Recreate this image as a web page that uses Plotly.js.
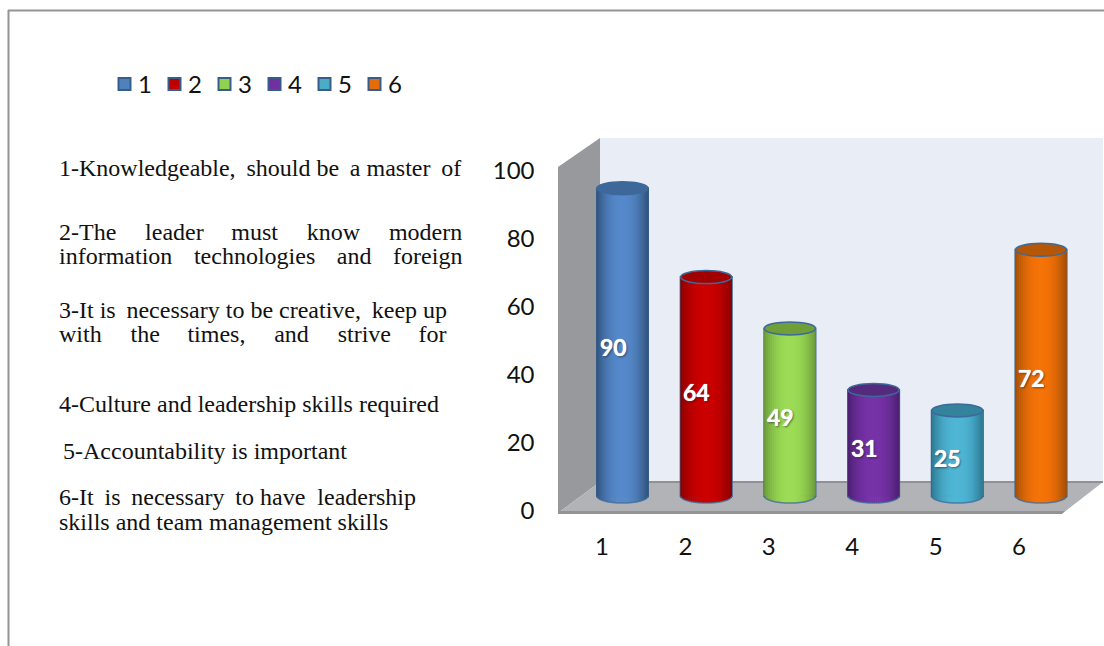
<!DOCTYPE html>
<html>
<head>
<meta charset="utf-8">
<script src="https://cdn.plot.ly/plotly-3.0.1.min.js"></script>
<style>html,body{margin:0;padding:0;background:#fff;overflow:hidden}#chart{width:1104px;height:646px}</style>
</head>
<body>
<div id="chart"></div>
<script>
const categories = [1, 2, 3, 4, 5, 6];
const values = [90, 64, 49, 31, 25, 72];
const seriesNames = ['1', '2', '3', '4', '5', '6'];
const legendColors = ['#4f81bd', '#c00000', '#92d050', '#7030a0', '#4bacc6', '#e46c0a'];
const centerColors = ['#5689cb', '#cc0000', '#9cdc56', '#7732a8', '#4fb6d6', '#f57308'];
const edgeColors = ['#2f527c', '#880000', '#6b9a3a', '#4b2070', '#2c7890', '#a34d05'];
const capColors = ['#3e6899', '#a00000', '#709e38', '#552a7d', '#35829c', '#b55706'];
const yTicks = [0, 20, 40, 60, 80, 100];

const textLines = [
  {t: '1-Knowledgeable, should be a master of', x: 57, y: 168, w: 402},
  {t: '2-The leader must know modern', x: 57, y: 232, w: 403},
  {t: 'information technologies and foreign', x: 57, y: 256, w: 403},
  {t: '3-It is necessary to be creative, keep up', x: 57, y: 310, w: 388},
  {t: 'with the times, and strive for', x: 57, y: 334, w: 388},
  {t: '4-Culture and leadership skills required', x: 57, y: 404},
  {t: '5-Accountability is important', x: 61, y: 451},
  {t: '6-It is necessary to have leadership', x: 57, y: 497, w: 357},
  {t: 'skills and team management skills', x: 57, y: 522}
];

const W = 1104, H = 646;
const px = v => v / W;
const py = v => 1 - v / H;
const BODY = 'Liberation Serif';
const UI = 'Lato';
const bodySize = 24;
const uiSize = 24;

const ctx = document.createElement('canvas').getContext('2d');
function justify(line) {
  if (!line.w) return line.t;
  ctx.font = bodySize + 'px "' + BODY + '"';
  const words = line.t.split(' ');
  const sp = ctx.measureText('\u00A0').width;
  const thin = ctx.measureText('\u2009').width;
  const bare = words.reduce((a, w) => a + ctx.measureText(w).width, 0);
  const gap = (line.w - bare) / (words.length - 1);
  let out = words[0], err = 0;
  for (let i = 1; i < words.length; i++) {
    const want = gap + err;
    let best = [1, 0], bestErr = Infinity;
    for (let a = 1; a * sp <= want + sp; a++) {
      for (let b = 0; b < 4; b++) {
        const e = Math.abs(want - a * sp - b * thin);
        if (e < bestErr) { bestErr = e; best = [a, b]; }
      }
    }
    err = want - best[0] * sp - best[1] * thin;
    out += '\u00A0'.repeat(best[0]) + '\u2009'.repeat(best[1]) + words[i];
  }
  return out;
}

const barWidth = 0.61;
const dropPx = 7, capPx = 6.5, unitPx = 3.42;
const traces = [];

// anchor trace for the labelled axes
traces.push({type: 'scatter', mode: 'markers', x: categories, y: values, xaxis: 'x', yaxis: 'y',
  marker: {opacity: 0, size: 1}, showlegend: false, hoverinfo: 'skip'});

categories.forEach((c, i) => {
  traces.push({type: 'bar', name: seriesNames[i], x: [c], y: [values[i]], width: barWidth,
    xaxis: 'x2', yaxis: 'y2',
    marker: {color: legendColors[i], line: {color: '#385d8a', width: 2}}});
});

const hex = s => [1, 3, 5].map(k => parseInt(s.substr(k, 2), 16));
const shade = (a, b, m) => {
  const A = hex(a), B = hex(b);
  return 'rgb(' + A.map((v, k) => Math.round(v + (B[k] - v) * m)).join(',') + ')';
};
const nStrips = 26;
for (let s = 0; s < nStrips; s++) {
  const u = (s + 0.5) / nStrips * 2 - 1;
  const m = 1 - Math.pow(Math.abs(u), 2.2);
  const drop = dropPx / unitPx * Math.sqrt(1 - u * u);
  const w = barWidth / nStrips;
  traces.push({type: 'bar', x: categories, y: values.map(v => v + drop),
    base: categories.map(() => -drop),
    width: w + 0.006, offset: -barWidth / 2 + s * w - 0.003,
    xaxis: 'x2', yaxis: 'y2', showlegend: false, hoverinfo: 'skip',
    marker: {color: edgeColors.map((e, i) => shade(e, centerColors[i], m)), line: {width: 0}}});
}

const poly = pts => 'M' + pts.map(p => p[0] / W + ',' + (1 - p[1] / H)).join(' L') + ' Z';
const paperShape = (pts, fill) => ({type: 'path', xref: 'paper', yref: 'paper', layer: 'below',
  path: poly(pts), fillcolor: fill, line: {width: 0}});

const shapes = [
  paperShape([[600, 138], [1103, 138], [1103, 482], [600, 482]], '#e8edf6'),
  paperShape([[558, 167], [600, 138], [600, 482], [558, 513]], '#98999d'),
  paperShape([[600, 482], [1103, 482], [1063, 513], [558, 513]], '#b1b3b7'),
  paperShape([[600, 481], [1103, 481], [1103, 483], [600, 483]], '#8f9195'),
  paperShape([[558, 511], [1065, 511], [1062, 514], [558, 514]], '#919397'),
  {type: 'line', xref: 'paper', yref: 'paper', layer: 'below', x0: px(8.5), x1: px(8.5), y0: py(10), y1: 0,
    line: {color: '#949494', width: 2}},
  {type: 'line', xref: 'paper', yref: 'paper', layer: 'below', x0: px(8), x1: 1, y0: py(10.5), y1: py(10.5),
    line: {color: '#949494', width: 2}}
];

const half = barWidth / 2, dropV = dropPx / unitPx, k = 0.5523;
categories.forEach((c, i) => {
  const l = c - half, r = c + half;
  shapes.push({type: 'path', xref: 'x2', yref: 'y2', layer: 'above',
    path: `M${l},0 C${l},${-k * dropV} ${c - k * half},${-dropV} ${c},${-dropV} C${c + k * half},${-dropV} ${r},${-k * dropV} ${r},0`,
    line: {color: 'rgba(59,106,154,0.75)', width: 1.5}});
  shapes.push({type: 'circle', xref: 'x2', yref: 'y2', layer: 'above',
    x0: l, x1: r, y0: values[i] - capPx / unitPx, y1: values[i] + capPx / unitPx,
    fillcolor: capColors[i], line: {color: '#3b6a9a', width: 1.5}});
});

const annotations = textLines.map(l => ({
  xref: 'paper', yref: 'paper', x: px(l.x), y: py(l.y), xanchor: 'left', yanchor: 'middle',
  showarrow: false, align: 'left', text: justify(l),
  font: {family: BODY, size: bodySize, color: '#111111'}
}));
categories.forEach((c, i) => annotations.push({
  xref: 'x2', yref: 'y2', x: c, y: values[i] / 2, xshift: -9.5, yshift: -5, showarrow: false,
  text: String(values[i]),
  font: {family: UI, size: 23, weight: 700, color: '#ffffff', shadow: '0 0 1px #ffffff, 1px 1px 2px rgba(0,0,0,0.55)'}
}));

const layout = {
  width: W, height: H, margin: {l: 0, r: 0, t: 0, b: 0, pad: 0},
  paper_bgcolor: '#ffffff', plot_bgcolor: 'rgba(0,0,0,0)',
  barmode: 'overlay', font: {family: UI, size: uiSize, color: '#111111'},
  showlegend: true,
  legend: {orientation: 'h', x: px(104.5), y: py(62), xanchor: 'left', yanchor: 'top',
    entrywidth: 5, entrywidthmode: 'pixels', itemwidth: 30, bgcolor: 'rgba(0,0,0,0)',
    font: {family: UI, size: uiSize, color: '#111111'}, traceorder: 'normal'},
  xaxis: {domain: [px(560.3), px(1060.7)], range: [0.5, 6.5], tickmode: 'array', tickvals: categories,
    ticktext: categories.map(String), ticks: 'outside', ticklen: 14, tickcolor: 'rgba(0,0,0,0)',
    showgrid: false, zeroline: false, showline: false, anchor: 'y', automargin: false, fixedrange: true},
  yaxis: {domain: [py(511), py(171)], range: [0, 100], tickmode: 'array', tickvals: yTicks,
    ticks: 'outside', ticklen: 20, tickcolor: 'rgba(0,0,0,0)', showgrid: false, zeroline: false,
    showline: false, anchor: 'x', automargin: false, fixedrange: true},
  xaxis2: {domain: [px(580.65), px(1082.85)], range: [0.5, 6.5], visible: false, anchor: 'y2', fixedrange: true},
  yaxis2: {domain: [py(496 + 5 * unitPx), py(496 - 100 * unitPx)], range: [-5, 100], visible: false, anchor: 'x2', fixedrange: true},
  shapes, annotations
};

Plotly.newPlot('chart', traces, layout, {displayModeBar: false, staticPlot: true}).then(() => {
  document.querySelectorAll('#chart .legend .traces').forEach(tr => {
    const t = tr.querySelector('.legendtext');
    if (t) t.setAttribute('x', parseFloat(t.getAttribute('x')) - 6.5);
    const b = tr.querySelector('path.legendbar');
    if (b) b.setAttribute('transform', (b.getAttribute('transform') || '') + ' scale(1.38)');
  });
});
</script>
</body>
</html>
